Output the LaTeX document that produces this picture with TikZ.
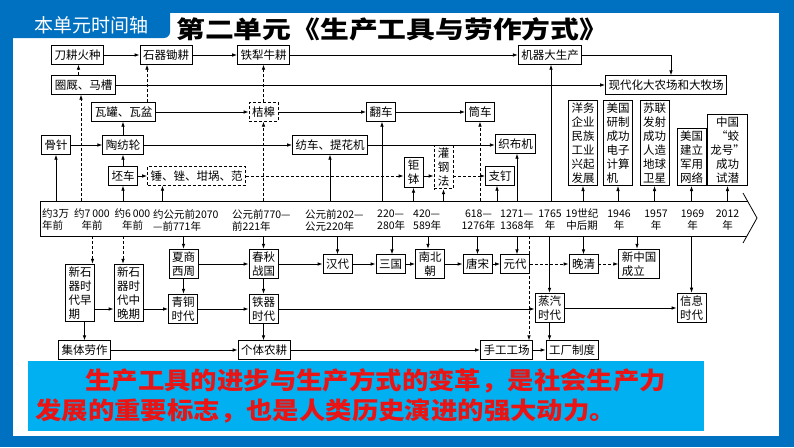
\documentclass[tikz,border=0pt]{standalone}
\usepackage{fontspec}
\usepackage{graphicx}
\setmainfont{Noto Sans CJK SC}
\usetikzlibrary{arrows.meta,calc}
\definecolor{frameblue}{RGB}{0,112,192}
\definecolor{cyanbox}{RGB}{0,176,240}
\definecolor{redtxt}{RGB}{235,20,20}
\tikzset{
 bx/.style={draw, line width=0.8pt, fill=white, inner xsep=3pt, inner ysep=2.5pt, minimum height=18.5pt, align=center, font=\fontsize{11.5}{14}\selectfont},
 dbx/.style={bx, dash pattern=on 3pt off 2pt},
 ar/.style={line width=0.8pt, -{Latex[length=5pt,width=3.6pt]}},
 dar/.style={ar, dash pattern=on 3pt off 2pt},
 tlab/.style={font=\fontsize{10.5}{12}\selectfont, inner sep=0pt},
 redline/.style={anchor=west, inner sep=0pt, text=redtxt, font=\fontsize{24}{24}\selectfont\bfseries},
}
\begin{document}
\begin{tikzpicture}[x=1pt,y=-1pt]
\useasboundingbox (0,0) rectangle (794,447);
\fill[frameblue] (0,0) rectangle (794,447);
\fill[white] (13,13) rectangle (779,436);
\fill[frameblue, rounded corners=6pt] (7,7) rectangle (170,38);
\node[text=white, inner sep=0pt, font=\fontsize{19}{19}\selectfont] (tab) at (91.5,25) {本单元时间轴};
\node[anchor=west, inner sep=0pt, font=\fontsize{24}{24}\selectfont\bfseries] (title) at (176,29) {\scalebox{1.2}[1]{第二单元《生产工具与劳作方式》}};

% timeline arrow
\draw[line width=0.8pt] (747.5,201) -- (40,201) -- (40,236) -- (747,236);
\draw[line width=0.8pt] (743,193) -- (757,218) -- (743,243);
\coordinate (tT) at (40,201);
\coordinate (tB) at (40,236);

% timeline labels
\node[tlab, anchor=west, align=left] (d1) at (42,220) {约3万\\年前};
\node[tlab, align=center] (d2) at (92,220) {约7\,000\\年前};
\node[tlab, align=center] (d3) at (132.5,220) {约6\,000\\年前};
\node[tlab, anchor=west, align=left] (d4) at (153,220) {约公元前2070\\—前771年};
\node[tlab, anchor=west, align=left] (d5) at (232,220) {公元前770—\\前221年};
\node[tlab, anchor=west, align=left] (d6) at (305,220) {公元前202—\\公元220年};
\node[tlab, anchor=west, align=left] (d7) at (377,220) {220—\\280年};
\node[tlab, anchor=west, align=left] (d8) at (413,220) {420—\\589年};
\node[tlab, align=center] (d9) at (478.5,220) {618—\\1276年};
\node[tlab, anchor=west, align=left] (d10) at (500,220) {1271—\\1368年};
\node[tlab, align=center] (d11) at (550,220) {1765\\年};
\node[tlab, align=center] (d12) at (582,220) {19世纪\\中后期};
\node[tlab, align=center] (d13) at (619,220) {1946\\年};
\node[tlab, align=center] (d14) at (656,220) {1957\\年};
\node[tlab, align=center] (d15) at (692.5,220) {1969\\年};
\node[tlab, align=center] (d16) at (727.5,220) {2012\\年};

% row A
\node[bx] (dg) at (77.5,55) {刀耕火种};
\node[bx] (sq) at (166,55) {石器锄耕};
\node[bx] (tlng) at (263.5,55) {铁犁牛耕};
\node[bx] (jq) at (550,55) {机器大生产};
% row B
\node[bx] (jj) at (83.5,85) {圈厩、马槽};
\node[bx] (xd) at (666,85) {现代化大农场和大牧场};
% row C
\node[bx] (wg) at (123.5,112) {瓦罐、瓦盆};
\node[dbx] (jg) at (263.5,112) {桔槔};
\node[bx] (fanche) at (381,112) {翻车};
\node[bx] (tc) at (480,112) {筒车};
% row D
\node[bx] (gz) at (56,145) {骨针};
\node[bx] (tf) at (123,145) {陶纺轮};
\node[bx] (fc) at (330,145) {纺车、提花机};
\node[bx] (zb) at (515.5,144) {织布机};
% row E
\node[bx] (pc) at (123,176) {坯车};
\node[dbx] (chui) at (196.5,176) {锤、锉、坩埚、范};
\node[bx, minimum width=19pt] (jb) at (413.5,172.5) {钜\\钵};
\node[dbx, minimum width=19pt] (gg) at (443.5,167) {灌\\钢\\法};
\node[bx] (zd) at (500,176) {支钉};
% right column boxes
\node[bx, anchor=south] (yw) at (583,186) {洋务\\企业\\民族\\工业\\兴起\\发展};
\node[bx, anchor=south, align=left] (mg1) at (618,186) {美国\\研制\\成功\\电子\\计算\\机};
\node[bx, anchor=south] (sl) at (654.5,186) {苏联\\发射\\成功\\人造\\地球\\卫星};
\node[bx, anchor=south] (mg2) at (691.5,186) {美国\\建立\\军用\\网络};
\node[bx, anchor=south] (zg) at (727.5,186) {中国\\“蛟\\龙号”\\成功\\试潜};

% row F
\node[bx] (xs) at (183.5,264) {夏商\\西周};
\node[bx] (cq) at (263.5,264) {春秋\\战国};
\node[bx] (hd) at (337.5,264) {汉代};
\node[bx] (sg) at (390.5,264) {三国};
\node[bx] (nb) at (430,264) {南北\\朝};
\node[bx] (ts) at (477.5,264) {唐宋};
\node[bx] (yd) at (515,264) {元代};
\node[bx] (wq) at (583.5,264) {晚清};
\node[bx, align=left] (xzg) at (639,264) {新中国\\成立};
% row G
\node[bx, align=left] (xs1) at (80,293) {新石\\器时\\代早\\期};
\node[bx] (xs2) at (128.5,293) {新石\\器时\\代中\\晚期};
\node[bx] (qt) at (183,309) {青铜\\时代};
\node[bx] (tq) at (263.5,309) {铁器\\时代};
\node[bx] (zq) at (549.5,308) {蒸汽\\时代};
\node[bx] (xx) at (691.5,308) {信息\\时代};
% row H
\node[bx] (jt) at (84.5,350) {集体劳作};
\node[bx] (gt) at (264,350) {个体农耕};
\node[bx] (sg2) at (506.5,350) {手工工场};
\node[bx] (gc) at (572,350) {工厂制度};

% connectors row A/B
\draw[ar] (dg.east) -- (sq.west);
\draw[ar] (sq.east) -- (tlng.west);
\draw[ar] (tlng.east) -- (jq.west);
\draw[ar] (jq.east) -| ([xshift=5pt]xd.north);
\draw[ar] (jj.east) -- (xd.west |- jj.east);
\draw[dar] ([xshift=-5pt]jj.north) -- ([xshift=-5pt]jj.north |- dg.south);
\draw[dar] ([xshift=-2.5pt]jj.south |- tT) -- ([xshift=-2.5pt]jj.south);
% row C
\draw[ar] (wg.east) -- (jg.west);
\draw[ar] (jg.east) -- (fanche.west);
\draw[ar] (fanche.east) -- (tc.west);
\draw[dar] ([xshift=23.5pt]wg.north) -- ([xshift=23.5pt]wg.north |- sq.south);
\draw[dar] (jg.north) -- (jg.north |- tlng.south);
\draw[ar] (tf.north) -- (tf.north |- wg.south);
\draw[dar] (jg.south |- tT) -- (jg.south);
\draw[ar] ([xshift=1pt]fanche.south |- tT) -- ([xshift=1pt]fanche.south);
\draw[dar] (tc.south |- tT) -- (tc.south);
% row D
\draw[ar] (gz.east) -- (tf.west);
\draw[ar] (tf.east) -- (fc.west);
\draw[ar] (fc.east) -- (zb.west |- fc.east);
\draw[ar] (gz.south |- tT) -- (gz.south);
\draw[ar] (pc.north) -- (tf.south);
\draw[ar] (fc.south |- tT) -- (fc.south);
\draw[ar] ([xshift=1.5pt]zb.south |- tT) -- ([xshift=1.5pt]zb.south);
% row E
\draw[ar] (pc.east) -- (chui.west);
\draw[dar] (chui.east) -- (jb.west |- chui.east);
\draw[ar] (jb.east |- chui.east) -- (gg.west |- chui.east);
\draw[dar] (gg.east |- chui.east) -- (zd.west);
\draw[ar] (pc.south |- tT) -- (pc.south);
\draw[ar] ([xshift=-34pt]chui.south |- tT) -- ([xshift=-34pt]chui.south);
\draw[ar] (jb.south |- tT) -- (jb.south);
\draw[ar] (gg.south |- tT) -- (gg.south);
\draw[ar] ([xshift=-3pt]zd.south |- tT) -- ([xshift=-3pt]zd.south);
\draw[ar] ([xshift=1pt]jq.south |- tT) -- ([xshift=1pt]jq.south);
\foreach \n in {yw,mg1,sl,mg2,zg} {\draw[ar] (\n.south |- tT) -- (\n.south);}

% below timeline
\draw[dar] ([xshift=12.5pt]xs1.north |- tB) -- ([xshift=12.5pt]xs1.north);
\draw[dar] ([xshift=-5.5pt]xs2.north |- tB) -- ([xshift=-5.5pt]xs2.north);
\draw[ar] (xs.north |- tB) -- (xs.north);
\draw[ar] (cq.north |- tB) -- (cq.north);
\draw[ar] (hd.north |- tB) -- (hd.north);
\draw[ar] ([xshift=1.5pt]sg.north |- tB) -- ([xshift=1.5pt]sg.north);
\draw[ar] ([xshift=-2pt]nb.north |- tB) -- ([xshift=-2pt]nb.north);
\draw[ar] (ts.north |- tB) -- (ts.north);
\draw[ar] ([xshift=2pt]yd.north |- tB) -- ([xshift=2pt]yd.north);
\draw[ar] (wq.north |- tB) -- (wq.north);
\draw[ar] ([xshift=-2pt]xzg.north |- tB) -- ([xshift=-2pt]xzg.north);
\draw[ar] (zq.north |- tB) -- (zq.north);
\draw[ar] (xx.north |- tB) -- (xx.north);
\draw[dar] ([xshift=22.5pt]sg2.north |- tB) -- ([xshift=22.5pt]sg2.north);
% row F chain
\draw[ar] (xs.east) -- (cq.west);
\draw[ar] (cq.east) -- (hd.west);
\draw[ar] (hd.east) -- (sg.west);
\draw[ar] (sg.east) -- (nb.west);
\draw[ar] (nb.east) -- (ts.west);
\draw[ar] (ts.east) -- (yd.west);
\draw[dar] (yd.east) -- (wq.west);
\draw[dar] (wq.east) -- (xzg.west);
\draw[ar] (xs.south) -- (xs.south |- qt.north);
\draw[ar] (cq.south) -- (cq.south |- tq.north);
% row G
\draw[ar] (xs1.east |- qt.west) -- (xs2.west |- qt.west);
\draw[ar] (xs2.east |- qt.west) -- (qt.west);
\draw[ar] (qt.east) -- (tq.west);
\draw[ar] (tq.east) -- (zq.west |- tq.east);
\draw[ar] (zq.east) -- (xx.west);
% row H
\draw[ar] (xs1.south -| jt.north) -- (jt.north);
\draw[ar] (tq.south) -- (tq.south |- gt.north);
\draw[ar] (jt.east) -- (gt.west);
\draw[ar] (gt.east) -- (sg2.west);
\draw[ar] (sg2.east) -- (gc.west);
\draw[ar] (zq.south) -- (zq.south |- gc.north);

% bottom banner
\fill[cyanbox] (28,361) rectangle (704,431);
\node[redline] (r1) at (85,380.5) {\scalebox{1.1}[1]{生产工具的进步与生产方式的变革，是社会生产力}};
\node[redline] (r2) at (35,411) {\scalebox{1.1}[1]{发展的重要标志，也是人类历史演进的强大动力。}};
\end{tikzpicture}
\end{document}
